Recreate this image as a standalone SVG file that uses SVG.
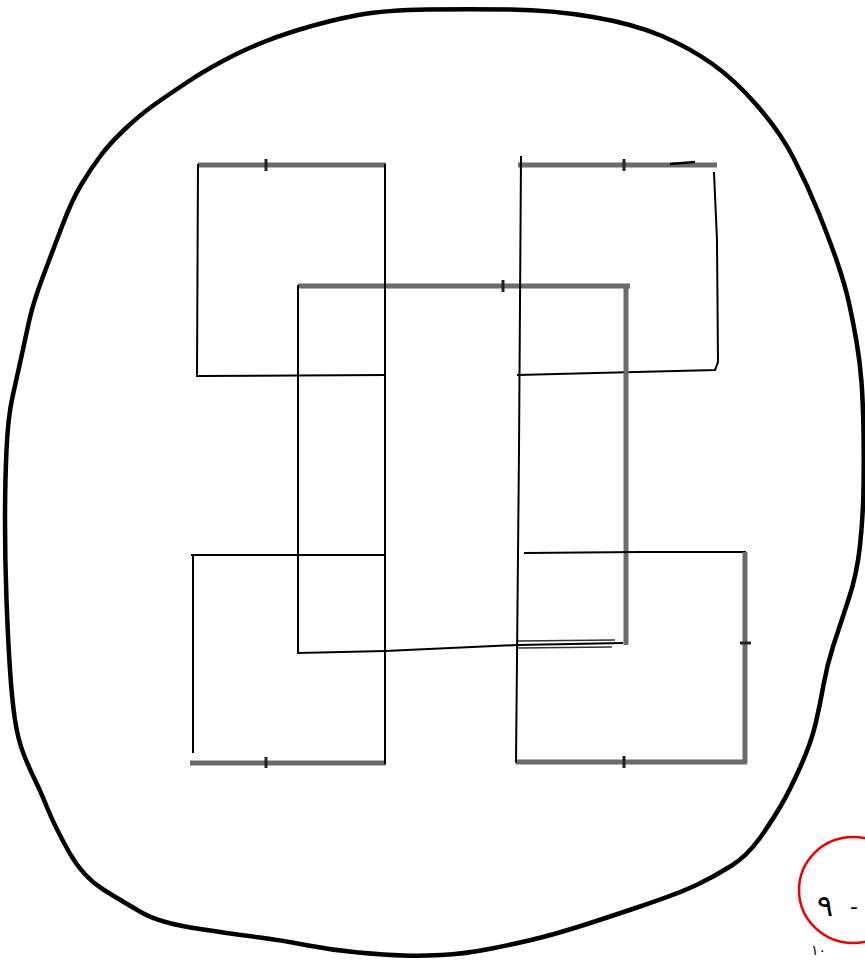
<svg xmlns="http://www.w3.org/2000/svg" width="865" height="963" viewBox="0 0 865 963">
<style>
.blob{fill:none;stroke:#000;stroke-width:4.5;stroke-linejoin:round;stroke-linecap:round}
.ln{fill:none;stroke:#000;stroke-width:2;stroke-linecap:square}
.gr{fill:none;stroke:#6a6a6a;stroke-width:5;stroke-linecap:butt}
.tk{stroke:#222;stroke-width:3}
.red{fill:none;stroke:#e00;stroke-width:2.5}
.num{font-family:"DejaVu Sans","Noto Sans",sans-serif;fill:#000}
</style>
<rect width="865" height="963" fill="#fff"/>
<g id="outline">
<path class="blob" d="M427.5,9.5 Q469,9 510.5,9.5 Q552,10 593,17 Q634,24 662,36 Q690,48 712.5,64 Q735,80 757.5,106 Q780,132 793.5,158 Q807,184 818.5,212.5 Q830,241 837.5,263 Q845,285 849,303 Q853,321 856.5,341.5 Q860,362 861.5,382 Q863,402 863.5,431 Q864,460 863.5,488.5 Q863,517 860,545.5 Q857,574 848.5,599.5 Q840,625 833.5,645 Q827,665 823.5,685 Q820,705 815.5,724 Q811,743 800.5,766.5 Q790,790 781,805.5 Q772,821 759.5,838.5 Q747,856 731,866 Q715,876 697.5,884.5 Q680,893 640,906.5 Q600,920 576,927.5 Q552,935 531,940 Q510,945 486.5,949.5 Q463,954 441.5,955 Q420,956 403,955.5 Q386,955 358.5,952.5 Q331,950 305.5,945 Q280,940 260,937.5 Q240,935 200,929 Q160,923 142.5,913 Q125,903 104,890 Q83,877 69,852 Q55,827 47.5,808.5 Q40,790 35,780 Q30,770 24,755 Q18,740 15,720 Q12,700 10,670 Q8,640 6.5,600 Q5,560 5,521.5 Q5,483 6.5,450 Q8,417 12.5,397 Q17,377 21,358.5 Q25,340 29,321.5 Q33,303 43,276.5 Q53,250 62.5,225 Q72,200 81,185 Q90,170 100,156.5 Q110,143 125,129 Q140,115 152.5,106 Q165,97 187.5,82 Q210,67 237.5,53.5 Q265,40 298,30 Q331,20 358.5,15 Q386,10 427.5,9.5 Z"/>
</g>
<g id="square-top-left">
<line class="gr" x1="198" y1="165" x2="386" y2="165"/>
<line class="ln" x1="198" y1="165" x2="197" y2="376"/>
<line class="ln" x1="197" y1="376" x2="384" y2="375"/>
<line class="tk" x1="266" y1="159" x2="266" y2="171"/>
</g>
<g id="square-top-right">
<line class="gr" x1="518" y1="165" x2="717" y2="165"/>
<path class="ln" d="M714,173 L717,240 L718,362 L715,370 L518,375"/>
<line class="tk" x1="624" y1="159" x2="624" y2="171"/>
<path d="M670,164 L695,162" stroke="#000" stroke-width="2.5" fill="none"/>
</g>
<g id="rect-centre">
<line class="gr" x1="298" y1="286" x2="630" y2="286"/>
<line class="gr" x1="626" y1="286" x2="626" y2="645"/>
<line class="ln" x1="298" y1="286" x2="298" y2="653"/>
<path class="ln" d="M298,653 L385,651 L518,645 L622,643"/>
<path d="M518,641 L615,640 M518,648 L612,647" stroke="#333" stroke-width="1.5" fill="none"/>
<line class="tk" x1="503" y1="280" x2="503" y2="292"/>
</g>
<g id="square-bottom-left">
<line class="ln" x1="192" y1="555" x2="385" y2="555"/>
<line class="ln" x1="193" y1="555" x2="193" y2="752"/>
<line class="gr" x1="190" y1="763" x2="386" y2="763"/>
<line class="tk" x1="266" y1="757" x2="266" y2="768"/>
</g>
<g id="square-bottom-right">
<path class="ln" d="M525,553 L640,552 L745,552"/>
<line class="gr" x1="745" y1="552" x2="745" y2="763"/>
<line class="gr" x1="516" y1="762" x2="747" y2="762"/>
<line class="tk" x1="624" y1="756" x2="624" y2="768"/>
<line class="tk" x1="740" y1="643" x2="751" y2="643"/>
</g>
<g id="dividers">
<line class="ln" x1="385" y1="165" x2="385" y2="763" stroke-width="2.5"/>
<path class="ln" d="M521,157 L519,450 L516,762"/>
</g>
<g id="note">
<ellipse class="red" cx="853" cy="890" rx="54" ry="53"/>
<text class="num" x="817" y="916" font-size="30">٩</text>
<text class="num" x="850" y="914" font-size="22">-</text>
<text class="num" x="811" y="955" font-size="14">١٠</text>
</g>
</svg>
